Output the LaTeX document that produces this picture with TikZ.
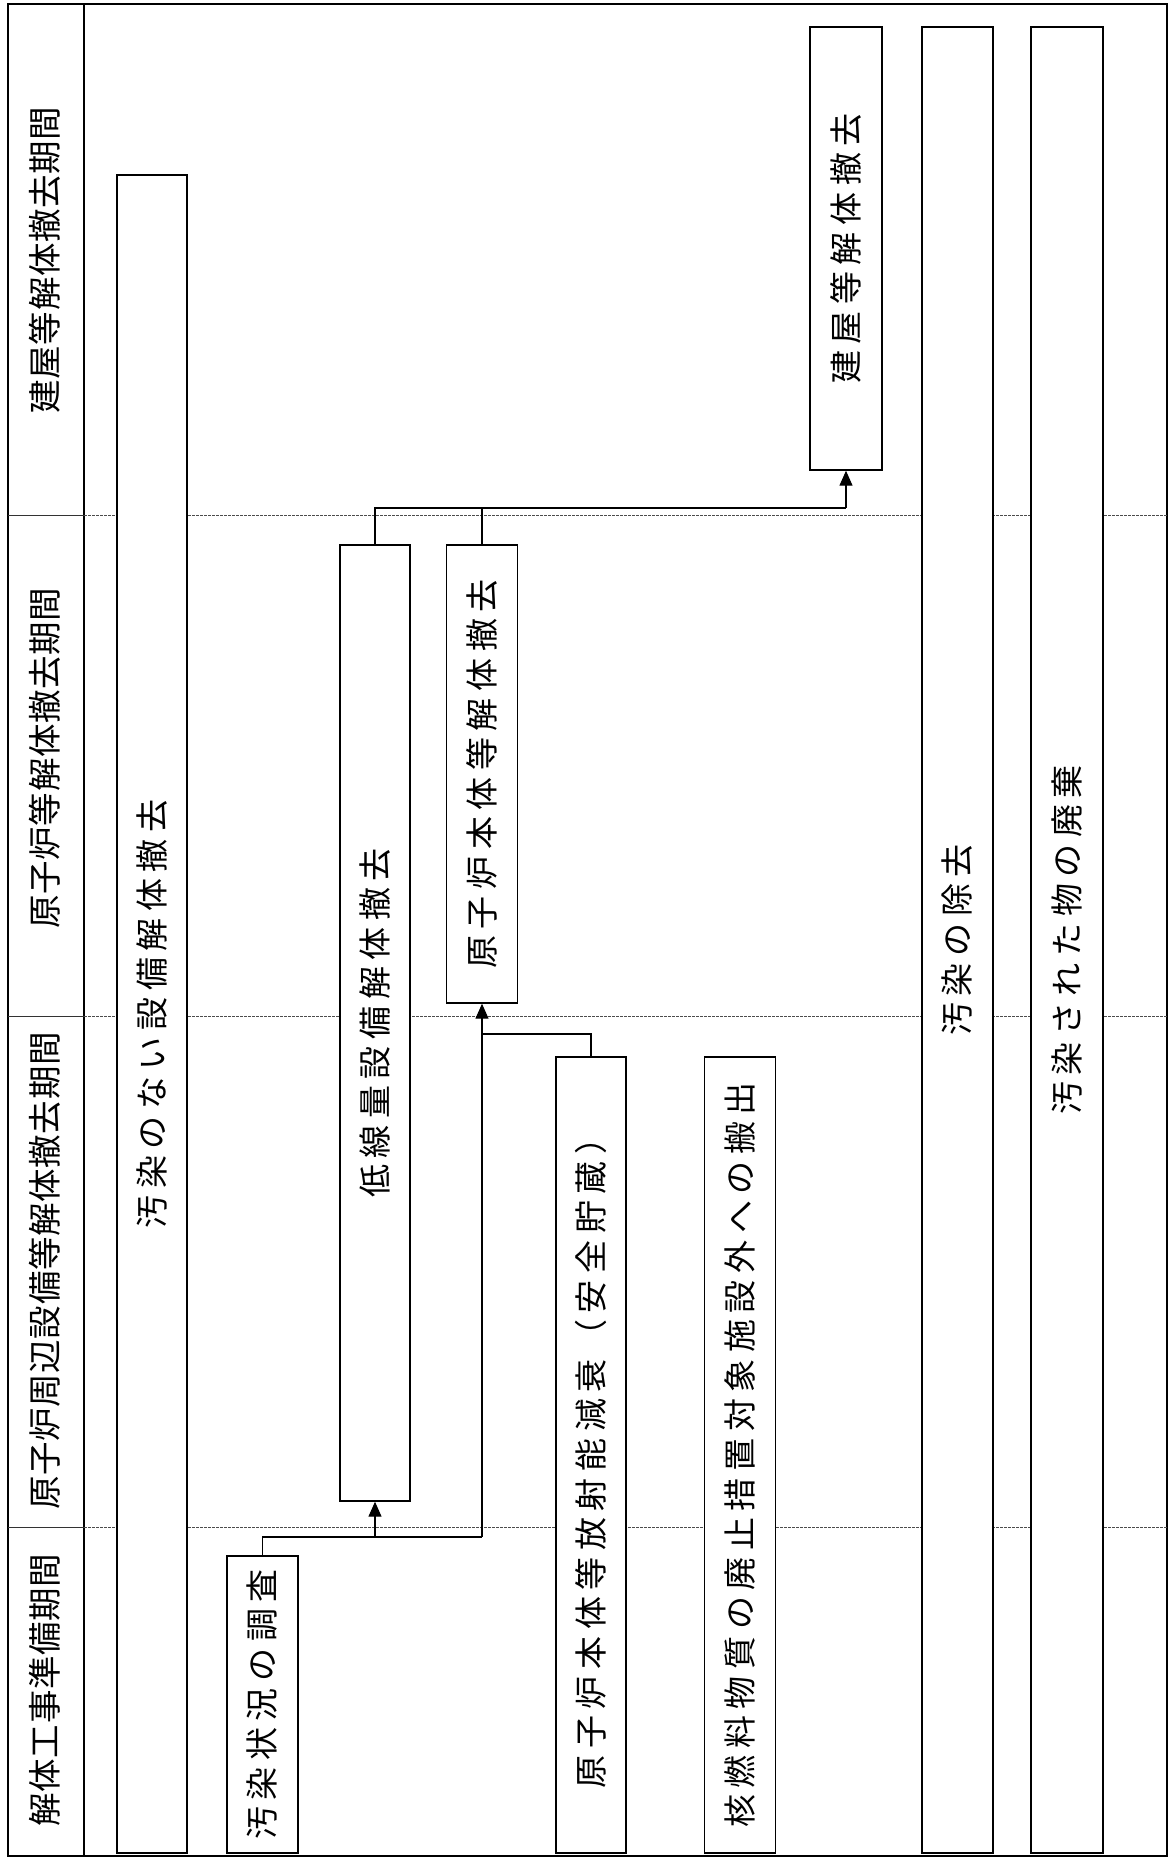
\documentclass[tikz,border=0pt]{standalone}
\usepackage{fontspec}
\setmainfont{Noto Sans CJK JP}
\newfontfamily\boxfont[LetterSpace=20]{Noto Sans CJK JP}
\newfontfamily\lblfont[LetterSpace=2]{Noto Sans CJK JP}
\usetikzlibrary{arrows.meta}
\tikzset{
  box/.style={draw=black, fill=white, line width=1.4pt, inner sep=0pt,
    font=\boxfont\fontsize{33}{38}\selectfont},
  lbl/.style={inner sep=0pt, font=\lblfont\fontsize{33.5}{38}\selectfont},
  conn/.style={draw=black, line width=1.2pt},
  arr/.style={conn, -{Triangle[length=15pt,width=13pt]}},
  sepsolid/.style={draw=black!80, line width=0.9pt},
  sepdash/.style={draw=black!70, line width=0.9pt, dash pattern=on 3pt off 1pt},
}
\newcommand{\rt}[1]{\rotatebox{90}{#1}}
\begin{document}
\begin{tikzpicture}[x=1pt,y=-1pt]
\useasboundingbox (0,0) rectangle (1169,1858);
% frame and label column
\draw[line width=1.3pt] (8,4) rectangle (1167,1856);
\draw[line width=1.2pt] (84,4) -- (84,1856);
% period separators
\foreach \yy in {515,1016,1527} {
  \draw[sepsolid] (8,\yy) -- (84,\yy);
  \draw[sepdash] (84,\yy) -- (1167,\yy);
}
% period labels
\node[lbl] (p4) at (45,260) {\rt{建屋等解体撤去期間}};
\node[lbl] (p3) at (45,758) {\rt{原子炉等解体撤去期間}};
\node[lbl] (p2) at (45,1271) {\rt{原子炉周辺設備等解体撤去期間}};
\node[lbl] (p1) at (45,1690) {\rt{解体工事準備期間}};
% boxes
\node[box, minimum width=70pt, minimum height=1678pt] (nonc) at (152,1014) {\rt{汚染のない設備解体撤去}};
\node[box, minimum width=71pt, minimum height=297pt] (survey) at (262.5,1704.5) {\rt{汚染状況の調査}};
\node[box, minimum width=70pt, minimum height=956pt] (lowdose) at (375,1023) {\rt{低線量設備解体撤去}};
\node[box, minimum width=71pt, minimum height=458pt] (reactor) at (482,774) {\rt{原子炉本体等解体撤去}};
\node[box, minimum width=70pt, minimum height=796pt] (decay) at (591,1455) {\rt{原子炉本体等放射能減衰（安全貯蔵）}};
\node[box, minimum width=71pt, minimum height=796pt] (fuel) at (740,1455) {\rt{核燃料物質の廃止措置対象施設外への搬出}};
\node[box, minimum width=72pt, minimum height=443pt] (bldg) at (846,248.5) {\rt{建屋等解体撤去}};
\node[box, minimum width=71pt, minimum height=1826pt] (decon) at (957.5,940) {\rt{汚染の除去}};
\node[box, minimum width=72pt, minimum height=1826pt] (waste) at (1067,940) {\rt{汚染された物の廃棄}};
% connector levels
\coordinate (j1) at (0,1537);
\coordinate (j2) at (0,1034);
\coordinate (j3) at (0,508);
% connectors
\draw[conn] (survey.north) -- (survey.north |- j1) -- (reactor.south |- j1);
\draw[arr] (lowdose.south |- j1) -- (lowdose.south);
\draw[arr] (reactor.south |- j1) -- (reactor.south);
\draw[conn] (decay.north) -- (decay.north |- j2) -- (reactor.south |- j2);
\draw[conn] (lowdose.north) -- (lowdose.north |- j3) -- (bldg.south |- j3);
\draw[conn] (reactor.north) -- (reactor.north |- j3);
\draw[arr] (bldg.south |- j3) -- (bldg.south);
\end{tikzpicture}
\end{document}
